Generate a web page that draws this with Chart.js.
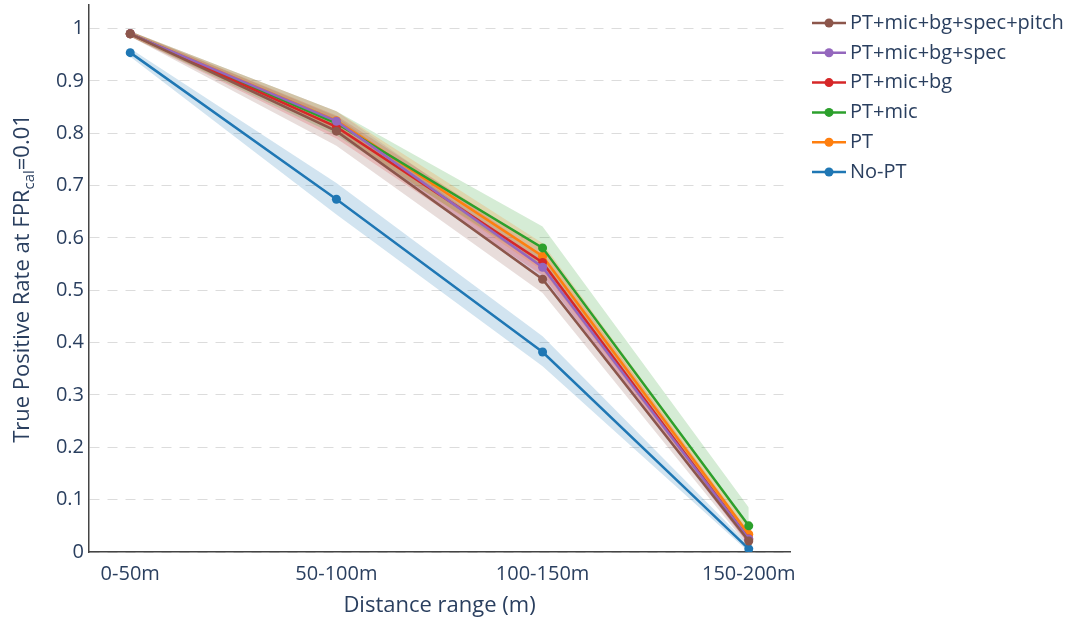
<!DOCTYPE html>
<html>
<head>
<meta charset="utf-8">
<script src="https://cdn.jsdelivr.net/npm/chart.js@4.4.1/dist/chart.umd.min.js"></script>
<style>
html,body{margin:0;padding:0;background:#fff;}
#wrap{width:1069px;height:621px;}
</style>
</head>
<body>
<div id="wrap"><canvas id="c" width="1069" height="621"></canvas></div>
<script>
// ---- data ----
const categories = ["0-50m", "50-100m", "100-150m", "150-200m"];
const yTicks = [0, 0.1, 0.2, 0.3, 0.4, 0.5, 0.6, 0.7, 0.8, 0.9, 1];
const seriesNames = ["No-PT", "PT", "PT+mic", "PT+mic+bg", "PT+mic+bg+spec", "PT+mic+bg+spec+pitch"];
const seriesColors = ["#1f77b4", "#ff7f0e", "#2ca02c", "#d62728", "#9467bd", "#8c564b"];
const bandColors = ["rgba(31,119,180,0.2)", "rgba(255,127,14,0.2)", "rgba(44,160,44,0.2)", "rgba(214,39,40,0.2)", "rgba(148,103,189,0.2)", "rgba(140,86,75,0.2)"];

const noPT      = [0.954, 0.674, 0.382, 0.006];
const noPTLow   = [0.946, 0.645, 0.355, 0.000];
const noPTHigh  = [0.962, 0.705, 0.412, 0.014];

const pt        = [0.990, 0.824, 0.565, 0.034];
const ptLow     = [0.985, 0.803, 0.538, 0.020];
const ptHigh    = [0.995, 0.842, 0.590, 0.050];

const ptMic     = [0.990, 0.819, 0.581, 0.050];
const ptMicLow  = [0.985, 0.796, 0.545, 0.022];
const ptMicHigh = [0.995, 0.842, 0.622, 0.085];

const ptMicBg     = [0.990, 0.812, 0.553, 0.025];
const ptMicBgLow  = [0.985, 0.790, 0.528, 0.014];
const ptMicBgHigh = [0.995, 0.834, 0.578, 0.038];

const ptMicBgSpec     = [0.990, 0.823, 0.544, 0.025];
const ptMicBgSpecLow  = [0.985, 0.803, 0.520, 0.015];
const ptMicBgSpecHigh = [0.995, 0.842, 0.566, 0.037];

const ptMicBgSpecPitch     = [0.990, 0.804, 0.521, 0.021];
const ptMicBgSpecPitchLow  = [0.985, 0.776, 0.495, 0.010];
const ptMicBgSpecPitchHigh = [0.995, 0.832, 0.548, 0.034];

const means = [noPT, pt, ptMic, ptMicBg, ptMicBgSpec, ptMicBgSpecPitch];
const lows  = [noPTLow, ptLow, ptMicLow, ptMicBgLow, ptMicBgSpecLow, ptMicBgSpecPitchLow];
const highs = [noPTHigh, ptHigh, ptMicHigh, ptMicBgHigh, ptMicBgSpecHigh, ptMicBgSpecPitchHigh];

const toXY = arr => arr.map((v, i) => ({x: i, y: v}));

const datasets = [];
seriesNames.forEach((name, s) => {
  datasets.push({
    label: name + " upper", data: toXY(highs[s]), isBand: true,
    borderWidth: 0, borderColor: 'rgba(0,0,0,0)', pointRadius: 0, fill: false, order: 100
  });
  datasets.push({
    label: name + " lower", data: toXY(lows[s]), isBand: true,
    borderWidth: 0, borderColor: 'rgba(0,0,0,0)', pointRadius: 0,
    fill: '-1', backgroundColor: bandColors[s], order: 100
  });
});
seriesNames.forEach((name, s) => {
  datasets.push({
    label: name, data: toXY(means[s]), isBand: false,
    borderColor: seriesColors[s], backgroundColor: seriesColors[s],
    borderWidth: 2.5, pointRadius: 4.5, pointBorderWidth: 0,
    pointBackgroundColor: seriesColors[s], fill: false, order: 10 - s
  });
});

const FONT = "'Open Sans', sans-serif";
const TXT = "#2a3f5f";

const extras = {
  id: 'extras',
  afterDraw(chart) {
    const ctx = chart.ctx;
    const area = chart.chartArea;
    ctx.save();
    // x axis title
    ctx.fillStyle = TXT;
    ctx.font = "22px " + FONT;
    ctx.textAlign = 'center';
    ctx.textBaseline = 'middle';
    ctx.fillText("Distance range (m)", (area.left + area.right) / 2, 606);
    // y axis title with subscript
    const p1 = "True Positive Rate at FPR", sub = "cal", p3 = "=0.01";
    ctx.font = "22px " + FONT; const w1 = ctx.measureText(p1).width;
    const w3 = ctx.measureText(p3).width;
    ctx.font = "15px " + FONT; const w2 = ctx.measureText(sub).width;
    const total = w1 + w2 + w3;
    ctx.translate(21, (area.top + area.bottom) / 2);
    ctx.rotate(-Math.PI / 2);
    ctx.textAlign = 'left';
    ctx.textBaseline = 'alphabetic';
    let x = -total / 2;
    ctx.font = "22px " + FONT; ctx.fillText(p1, x, 8); x += w1;
    ctx.font = "15px " + FONT; ctx.fillText(sub, x, 13); x += w2;
    ctx.font = "22px " + FONT; ctx.fillText(p3, x, 8);
    ctx.restore();

    // legend (reversed order)
    ctx.save();
    const order = [5, 4, 3, 2, 1, 0];
    order.forEach((s, i) => {
      const y = 23 + i * 29.8;
      ctx.strokeStyle = seriesColors[s];
      ctx.lineWidth = 2.5;
      ctx.beginPath(); ctx.moveTo(812, y); ctx.lineTo(846, y); ctx.stroke();
      ctx.fillStyle = seriesColors[s];
      ctx.beginPath(); ctx.arc(829, y, 4.5, 0, Math.PI * 2); ctx.fill();
      ctx.fillStyle = TXT;
      ctx.font = "20px " + FONT;
      ctx.textAlign = 'left'; ctx.textBaseline = 'middle';
      ctx.fillText(seriesNames[s], 850, y);
    });
    ctx.restore();
  }
};

new Chart(document.getElementById('c'), {
  type: 'line',
  data: { datasets },
  options: {
    responsive: false,
    animation: false,
    devicePixelRatio: 1,
    layout: { padding: { left: 0, top: 5, right: 279, bottom: 0 } },
    plugins: {
      legend: { display: false },
      tooltip: { enabled: false },
      filler: { drawTime: 'beforeDatasetsDraw', propagate: false }
    },
    elements: { line: { tension: 0 } },
    scales: {
      x: {
        type: 'linear', min: -0.2, max: 3.2,
        afterBuildTicks: sc => { sc.ticks = categories.map((c, i) => ({value: i})); },
        afterFit: sc => { sc.height = 69; sc.paddingLeft = 0; sc.paddingRight = 0; },
        grid: { display: false, drawTicks: false },
        border: { display: true, color: '#444', width: 1.5 },
        ticks: {
          padding: 10, color: TXT, font: { family: FONT, size: 20 },
          maxRotation: 0, autoSkip: false,
          callback: v => categories[Math.round(v)]
        }
      },
      y: {
        type: 'linear', min: 0, max: 1.045,
        afterBuildTicks: sc => { sc.ticks = yTicks.map(v => ({value: v})); },
        afterFit: sc => { sc.width = 89; sc.paddingTop = 0; sc.paddingBottom = 0; },
        grid: { color: '#dcdcdc', lineWidth: 1, drawTicks: false },
        border: { display: true, color: '#444', width: 1.5, dash: [10, 8] },
        ticks: {
          padding: 5, color: TXT, font: { family: FONT, size: 20 },
          callback: v => (Math.abs(v) < 1e-9 ? "0" : (Math.abs(v - 1) < 1e-9 ? "1" : v.toFixed(1)))
        }
      }
    }
  },
  plugins: [extras]
});
</script>
</body>
</html>
